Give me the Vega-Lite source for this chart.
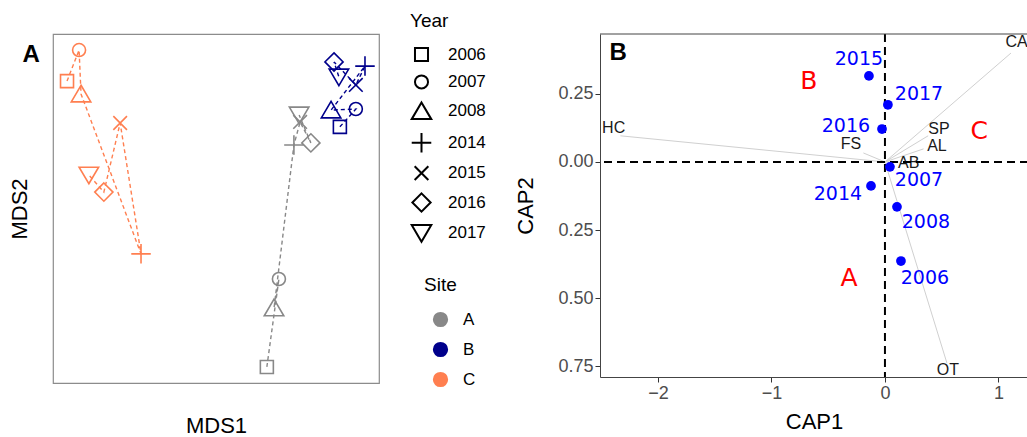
{
  "$schema": "https://vega.github.io/schema/vega-lite/v6.json",
  "autosize": {"type": "pad"},
  "padding": {"left": 7, "top": 12, "right": 0, "bottom": 0},
  "bounds": "flush",
  "spacing": 221,
  "config": {"font": "Liberation Sans", "view": {"stroke": null}},
  "datasets": {
    "mds": [
      {"site": "A", "year": "2006", "x": 65.6, "y": 4.6},
      {"site": "A", "year": "2007", "x": 69.3, "y": 29.8},
      {"site": "A", "year": "2008", "x": 67.8, "y": 21.5},
      {"site": "A", "year": "2014", "x": 73.9, "y": 68.2},
      {"site": "A", "year": "2015", "x": 75.8, "y": 74.8},
      {"site": "A", "year": "2016", "x": 79.1, "y": 68.8},
      {"site": "A", "year": "2017", "x": 75.5, "y": 76.8},
      {"site": "B", "year": "2006", "x": 88.0, "y": 73.4},
      {"site": "B", "year": "2007", "x": 92.9, "y": 78.5},
      {"site": "B", "year": "2008", "x": 85.3, "y": 78.2},
      {"site": "B", "year": "2014", "x": 95.7, "y": 90.8},
      {"site": "B", "year": "2015", "x": 92.9, "y": 85.4},
      {"site": "B", "year": "2016", "x": 86.2, "y": 92.0},
      {"site": "B", "year": "2017", "x": 87.7, "y": 87.7},
      {"site": "C", "year": "2006", "x": 4.3, "y": 86.5},
      {"site": "C", "year": "2007", "x": 8.0, "y": 95.4},
      {"site": "C", "year": "2008", "x": 8.6, "y": 82.8},
      {"site": "C", "year": "2014", "x": 27.0, "y": 37.0},
      {"site": "C", "year": "2015", "x": 20.6, "y": 74.5},
      {"site": "C", "year": "2016", "x": 15.6, "y": 54.7},
      {"site": "C", "year": "2017", "x": 11.0, "y": 59.6}
    ],
    "cap": [
      {"year": "2015", "x": -0.141, "y": 0.316, "lx": -0.229, "ly": 0.379},
      {"year": "2017", "x": 0.026, "y": 0.210, "lx": 0.300, "ly": 0.250},
      {"year": "2016", "x": -0.026, "y": 0.121, "lx": -0.344, "ly": 0.132},
      {"year": "2007", "x": 0.044, "y": -0.018, "lx": 0.300, "ly": -0.066},
      {"year": "2014", "x": -0.123, "y": -0.088, "lx": -0.414, "ly": -0.118},
      {"year": "2008", "x": 0.106, "y": -0.165, "lx": 0.361, "ly": -0.221},
      {"year": "2006", "x": 0.141, "y": -0.364, "lx": 0.352, "ly": -0.426}
    ],
    "vec": [
      {"var": "HC", "x": -2.33, "y": 0.096, "lx": -2.39, "ly": 0.125},
      {"var": "CA", "x": 1.11, "y": 0.40, "lx": 1.16, "ly": 0.44},
      {"var": "SP", "x": 0.38, "y": 0.096, "lx": 0.476, "ly": 0.121},
      {"var": "AL", "x": 0.34, "y": 0.048, "lx": 0.458, "ly": 0.059},
      {"var": "FS", "x": -0.19, "y": 0.033, "lx": -0.30, "ly": 0.066},
      {"var": "AB", "x": 0.12, "y": 0.0, "lx": 0.21, "ly": -0.004},
      {"var": "OT", "x": 0.546, "y": -0.739, "lx": 0.555, "ly": -0.765}
    ],
    "groups": [
      {"lab": "B", "x": -0.67, "y": 0.298},
      {"lab": "C", "x": 0.83, "y": 0.114},
      {"lab": "A", "x": -0.317, "y": -0.426}
    ]
  },
  "hconcat": [
    {
      "width": 326,
      "height": 349,
      "view": {"stroke": "#8c8c8c", "strokeWidth": 1.2},
      "data": {"name": "mds"},
      "layer": [
        {
          "mark": {"type": "line", "strokeDash": [4, 3], "strokeWidth": 1.4},
          "encoding": {
            "x": {"field": "x", "type": "quantitative", "scale": {"domain": [0, 100], "nice": false, "zero": false},
                  "axis": {"title": "MDS1", "labels": false, "ticks": false, "domain": false, "grid": false, "titleFontSize": 22, "titleFontWeight": "normal", "titleColor": "black", "titlePadding": 32}},
            "y": {"field": "y", "type": "quantitative", "scale": {"domain": [0, 100], "nice": false, "zero": false},
                  "axis": {"title": "MDS2", "labels": false, "ticks": false, "domain": false, "grid": false, "titleFontSize": 22, "titleFontWeight": "normal", "titleColor": "black", "titlePadding": 22}},
            "color": {"field": "site", "type": "nominal", "scale": {"domain": ["A", "B", "C"], "range": ["#888888", "#00008b", "#ff7f50"]}},
            "order": {"field": "year"}
          }
        },
        {
          "mark": {"type": "point", "filled": false, "size": 169, "strokeWidth": 1.6, "opacity": 1},
          "encoding": {
            "x": {"field": "x", "type": "quantitative"},
            "y": {"field": "y", "type": "quantitative"},
            "shape": {"field": "year", "type": "nominal",
              "scale": {"domain": ["2006", "2007", "2008", "2014", "2015", "2016", "2017"],
                        "range": ["M-1,-1L1,-1L1,1L-1,1Z", "circle", "M0,-1.35L1.5,1.2L-1.5,1.2Z", "M-1.5,0L1.5,0M0,-1.5L0,1.5", "M-1.05,-1.05L1.05,1.05M-1.05,1.05L1.05,-1.05", "M0,-1.4L1.4,0L0,1.4L-1.4,0Z", "M0,1.35L1.5,-1.2L-1.5,-1.2Z"]},
              "legend": {"orient": "none", "legendX": 357, "legendY": -22, "title": "Year", "titleFontSize": 19, "titleFontWeight": "normal", "titleColor": "black", "labelFontSize": 17, "labelColor": "black", "symbolSize": 170, "symbolStrokeWidth": 2, "symbolStrokeColor": "black", "symbolFillColor": "transparent", "symbolOffset": 3, "rowPadding": 4.4, "titlePadding": 15, "labelOffset": 18, "padding": 0}},
            "color": {"field": "site", "type": "nominal",
              "legend": {"orient": "none", "legendX": 371, "legendY": 242, "title": "Site", "symbolType": "circle", "titleFontSize": 19, "titleFontWeight": "normal", "titleColor": "black", "labelFontSize": 17, "labelColor": "black", "symbolSize": 60, "symbolStrokeWidth": 7.5, "symbolOffset": 8, "rowPadding": -9, "titlePadding": 16, "labelOffset": 14, "padding": 0}}
          }
        },
        {
          "data": {"values": [{"lab": "A"}]},
          "mark": {"type": "text", "fontWeight": "bold", "fontSize": 24, "clip": false, "color": "black"},
          "encoding": {"x": {"datum": -6.7}, "y": {"datum": 94}, "text": {"field": "lab"}}
        }
      ]
    },
    {
      "width": 428,
      "height": 343,
      "layer": [
        {
          "data": {"name": "vec"},
          "mark": {"type": "rule", "color": "#d0d0d0", "strokeWidth": 1},
          "encoding": {
            "x": {"field": "x", "type": "quantitative", "scale": {"domain": [-2.51, 1.26], "nice": false, "zero": false},
                  "axis": {"title": "CAP1", "values": [-2, -1, 0, 1], "format": "d", "grid": false, "titleFontSize": 22, "titleFontWeight": "normal", "titleColor": "black", "titlePadding": 9, "labelFontSize": 18, "labelColor": "#4d4d4d", "tickColor": "#333333", "tickSize": 5, "domainColor": "#444444", "labelPadding": 2}},
            "y": {"field": "y", "type": "quantitative", "scale": {"domain": [-0.79, 0.47], "nice": false, "zero": false},
                  "axis": {"title": "CAP2", "values": [-0.75, -0.5, -0.25, 0, 0.25], "labelExpr": "format(abs(datum.value), '.2f')", "grid": false, "titleFontSize": 22, "titleFontWeight": "normal", "titleColor": "black", "titlePadding": 20, "labelFontSize": 18, "labelColor": "#4d4d4d", "tickColor": "#333333", "tickSize": 5, "domainColor": "#444444", "labelPadding": 2}},
            "x2": {"datum": 0},
            "y2": {"datum": 0}
          }
        },
        {
          "data": {"name": "vec"},
          "mark": {"type": "text", "fontSize": 16, "color": "#1a1a1a", "align": "center", "baseline": "middle", "clip": false},
          "encoding": {"x": {"field": "lx", "type": "quantitative"}, "y": {"field": "ly", "type": "quantitative"}, "text": {"field": "var"}}
        },
        {
          "data": {"values": [{"v": 0}]},
          "mark": {"type": "rule", "strokeDash": [8, 5], "strokeWidth": 2, "color": "black"},
          "encoding": {"x": {"datum": 0}}
        },
        {
          "data": {"values": [{"v": 0}]},
          "mark": {"type": "rule", "strokeDash": [8, 5], "strokeWidth": 2, "color": "black"},
          "encoding": {"y": {"datum": 0}}
        },
        {
          "data": {"values": [{"v": 0.47}]},
          "mark": {"type": "rule", "strokeWidth": 1, "color": "#444444"},
          "encoding": {"y": {"datum": 0.47}}
        },
        {
          "data": {"name": "cap"},
          "mark": {"type": "circle", "size": 95, "color": "#0000ff", "opacity": 1},
          "encoding": {"x": {"field": "x", "type": "quantitative"}, "y": {"field": "y", "type": "quantitative"}}
        },
        {
          "data": {"name": "cap"},
          "mark": {"type": "text", "font": "DejaVu Sans", "fontSize": 19, "color": "#0000ff", "align": "center", "baseline": "middle"},
          "encoding": {"x": {"field": "lx", "type": "quantitative"}, "y": {"field": "ly", "type": "quantitative"}, "text": {"field": "year"}}
        },
        {
          "data": {"name": "groups"},
          "mark": {"type": "text", "font": "DejaVu Sans", "fontSize": 25, "color": "#ff0000", "align": "center", "baseline": "middle"},
          "encoding": {"x": {"field": "x", "type": "quantitative"}, "y": {"field": "y", "type": "quantitative"}, "text": {"field": "lab"}}
        },
        {
          "data": {"values": [{"lab": "B"}]},
          "mark": {"type": "text", "fontWeight": "bold", "fontSize": 24, "color": "black", "align": "center", "baseline": "middle"},
          "encoding": {"x": {"datum": -2.35}, "y": {"datum": 0.40}, "text": {"field": "lab"}}
        }
      ]
    }
  ]
}
